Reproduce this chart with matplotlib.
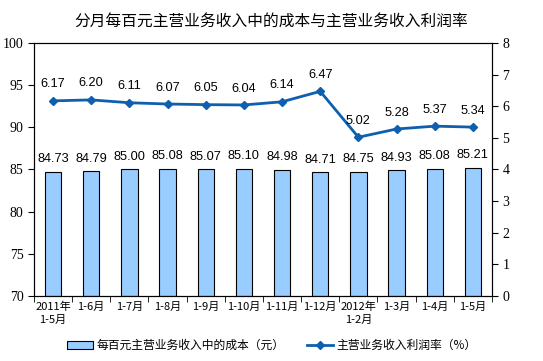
import matplotlib
matplotlib.use("Agg")
import matplotlib.pyplot as plt
from matplotlib.ticker import MultipleLocator, FixedLocator

plt.rcParams['font.family'] = ['Noto Sans CJK SC', 'DejaVu Sans']

categories = ["2011年\n1-5月", "1-6月", "1-7月", "1-8月", "1-9月", "1-10月", "1-11月",
              "1-12月", "2012年\n1-2月", "1-3月", "1-4月", "1-5月"]
cost = [84.73, 84.79, 85.00, 85.08, 85.07, 85.10, 84.98, 84.71, 84.75, 84.93, 85.08, 85.21]
margin = [6.17, 6.20, 6.11, 6.07, 6.05, 6.04, 6.14, 6.47, 5.02, 5.28, 5.37, 5.34]

fig = plt.figure(figsize=(5.43, 3.61), dpi=100)
ax = fig.add_axes([0.0626, 0.18, 0.8434, 0.701])
x = list(range(len(categories)))

ax.bar(x, [c - 70 for c in cost], bottom=70, width=0.43, color="#99CCFF",
       edgecolor="black", linewidth=0.8, zorder=2, label="每百元主营业务收入中的成本（元）")
ax.set_ylim(70, 100)
ax.set_xlim(-0.5, len(categories) - 0.5)
ax.yaxis.set_major_locator(MultipleLocator(5))
for xi, c in zip(x, cost):
    ax.text(xi, c + 0.75, f"{c:.2f}", ha="center", va="bottom", fontsize=9.2,
            family="Liberation Sans")

ax2 = ax.twinx()
ax2.plot(x, margin, color="#0F5FAF", linewidth=2, marker="D", markersize=4.5,
         zorder=3, label="主营业务收入利润率（%）")
ax2.set_ylim(0, 8)
ax2.yaxis.set_major_locator(MultipleLocator(1))
for xi, m in zip(x, margin):
    ax2.text(xi, m + 0.33, f"{m:.2f}", ha="center", va="bottom", fontsize=9.2,
             family="Liberation Sans")

ax.set_xticks(x)
ax.set_xticklabels(categories, fontsize=8, linespacing=1.4)
ax.xaxis.set_minor_locator(FixedLocator([i - 0.5 for i in range(len(categories) + 1)]))
ax.tick_params(axis="x", which="major", length=0, pad=4)
ax.tick_params(axis="x", which="minor", length=4, direction="out")
ax.tick_params(axis="y", direction="out", length=4, labelsize=10)
ax2.tick_params(axis="y", direction="out", length=4, labelsize=10)
for lab in ax.get_yticklabels() + ax2.get_yticklabels():
    lab.set_family("Liberation Serif")
for a in (ax, ax2):
    for s in a.spines.values():
        s.set_linewidth(0.8)

fig.suptitle("分月每百元主营业务收入中的成本与主营业务收入利润率", fontsize=11.3, y=0.965)

h1, l1 = ax.get_legend_handles_labels()
h2, l2 = ax2.get_legend_handles_labels()
fig.legend(h1 + h2, l1 + l2, loc="lower center", bbox_to_anchor=(0.5, -0.005), ncol=2,
           frameon=False, fontsize=8.5, handlelength=2.2, handletextpad=0.3,
           columnspacing=1.9, handleheight=0.6)

fig.savefig("out.png", dpi=100)
